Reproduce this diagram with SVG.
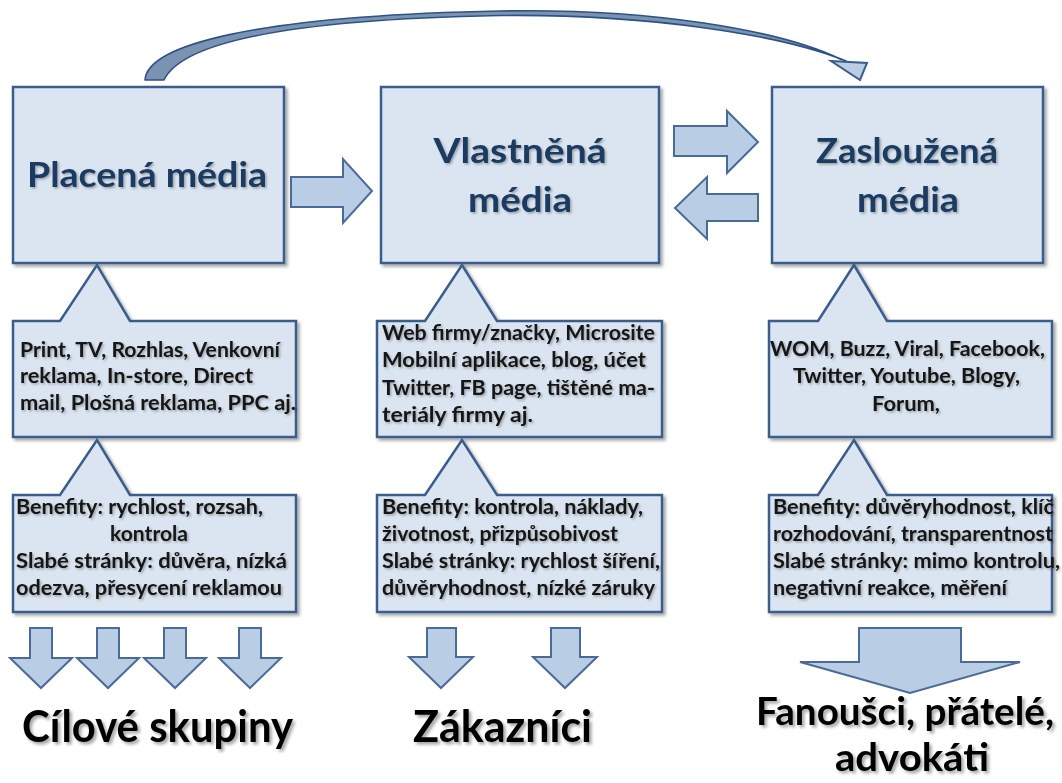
<svg xmlns="http://www.w3.org/2000/svg" width="1062" height="783" viewBox="0 0 1062 783">
  <defs>
    <filter id="shapeShadow" x="-10%" y="-10%" width="125%" height="125%">
      <feDropShadow dx="2.5" dy="2.5" stdDeviation="1.8" flood-color="#000" flood-opacity="0.35"/>
    </filter>
    <filter id="textShadow" x="-5%" y="-20%" width="115%" height="150%">
      <feDropShadow dx="1.5" dy="1.5" stdDeviation="1" flood-color="#000" flood-opacity="0.3"/>
    </filter>
    <filter id="bigTextShadow" x="-5%" y="-20%" width="115%" height="150%">
      <feDropShadow dx="2.5" dy="2.5" stdDeviation="1.6" flood-color="#000" flood-opacity="0.35"/>
    </filter>
  </defs>
  <style>
    .box { fill: #dbe5f1; stroke: #3a5d8b; stroke-width: 2.5; filter: url(#shapeShadow); }
    .arrow { fill: #b9cde5; stroke: #4a6b97; stroke-width: 2; stroke-linejoin: miter; }
    .title { font-family: Lato, "Open Sans", "Liberation Sans", sans-serif; font-weight: 700; font-size: 34px; fill: #1c3a60; filter: url(#textShadow); }
    .note { font-family: Lato, "Open Sans", "Liberation Sans", sans-serif; font-weight: 700; font-size: 20px; fill: #141414; filter: url(#textShadow); }
    .label { font-family: Lato, "Open Sans", "Liberation Sans", sans-serif; font-weight: 700; font-size: 44px; fill: #000; filter: url(#bigTextShadow); }
    .label2 { font-family: Lato, "Open Sans", "Liberation Sans", sans-serif; font-weight: 700; font-size: 39px; fill: #000; filter: url(#bigTextShadow); }
  </style>

  <rect width="1062" height="783" fill="#ffffff"/>

  <!-- connectors -->
  <g id="connectors">
    <!-- curved arrow over the top: paid to earned -->
    <path d="M145,80 C147,46 250,16 500,11 C650,8 780,30 840,59 L846,61 C782,35 650,14 500,15.5 C268,20 180,46 164,80 Z"
          fill="#7b93b3" stroke="#2e5283" stroke-width="1.6" stroke-linejoin="round"/>
    <polygon points="831,61 867,63 860,80" fill="#b9cde5" stroke="#3a5d8b" stroke-width="2" stroke-linejoin="miter"/>

    <!-- paid -> owned -->
    <polygon class="arrow" points="291,177 343,177 343,159 372,191 343,223 343,207 291,207"/>
    <!-- owned -> earned -->
    <polygon class="arrow" points="674,126 727,126 727,111 758,142 727,173 727,156 674,156"/>
    <!-- earned -> owned -->
    <polygon class="arrow" points="758,194 707,194 707,177 675,208 707,239 707,221 758,221"/>

    <!-- down arrows under paid media -->
    <polygon class="arrow" points="30,628 52,628 52,658 72,658 41,688 10,658 30,658"/>
    <polygon class="arrow" points="97,628 119,628 119,658 139,658 108,688 77,658 97,658"/>
    <polygon class="arrow" points="164,628 186,628 186,658 206,658 175,688 144,658 164,658"/>
    <polygon class="arrow" points="239,628 261,628 261,658 281,658 250,688 219,658 239,658"/>

    <!-- down arrows under owned media -->
    <polygon class="arrow" points="427,628 456,628 456,657 473,657 441,688 409,657 427,657"/>
    <polygon class="arrow" points="551,628 580,628 580,657 597,657 565,688 533,657 551,657"/>

    <!-- large down arrow under earned media -->
    <polygon class="arrow" points="859,628 961,628 961,662 1020,662 910,693 800,662 859,662"/>
  </g>

  <!-- main media boxes -->
  <g id="paid-media">
    <rect class="box" x="13" y="87" width="271" height="176"/>
    <text class="title" x="147" y="187" text-anchor="middle" textLength="240" lengthAdjust="spacingAndGlyphs">Placená média</text>
  </g>
  <g id="owned-media">
    <rect class="box" x="381" y="87" width="278" height="176"/>
    <text class="title" x="520" y="163" text-anchor="middle" textLength="173" lengthAdjust="spacingAndGlyphs">Vlastněná</text>
    <text class="title" x="520" y="212" text-anchor="middle" textLength="104" lengthAdjust="spacingAndGlyphs">média</text>
  </g>
  <g id="earned-media">
    <rect class="box" x="772" y="87" width="271" height="176"/>
    <text class="title" x="907" y="163" text-anchor="middle" textLength="182" lengthAdjust="spacingAndGlyphs">Zasloužená</text>
    <text class="title" x="908" y="212" text-anchor="middle" textLength="102" lengthAdjust="spacingAndGlyphs">média</text>
  </g>

  <!-- channel callouts -->
  <g id="paid-channels">
    <path class="box" d="M13,321 H60 L97,265 L130,321 H296 V437 H13 Z"/>
    <text class="note" x="20" y="357" textLength="260" lengthAdjust="spacingAndGlyphs">Print, TV, Rozhlas, Venkovní</text>
    <text class="note" x="20" y="383" textLength="233" lengthAdjust="spacingAndGlyphs">reklama, In-store, Direct</text>
    <text class="note" x="20" y="410" textLength="276" lengthAdjust="spacingAndGlyphs">mail, Plošná  reklama, PPC aj.</text>
  </g>
  <g id="owned-channels">
    <path class="box" d="M377,321 H425 L462,265 L497,321 H662 V437 H377 Z"/>
    <text class="note" x="382" y="340" textLength="273" lengthAdjust="spacingAndGlyphs">Web firmy/značky, Microsite</text>
    <text class="note" x="382" y="367" textLength="264" lengthAdjust="spacingAndGlyphs">Mobilní aplikace, blog, účet</text>
    <text class="note" x="382" y="395" textLength="273" lengthAdjust="spacingAndGlyphs">Twitter, FB page, tištěné ma-</text>
    <text class="note" x="382" y="422" textLength="151" lengthAdjust="spacingAndGlyphs">teriály firmy aj.</text>
  </g>
  <g id="earned-channels">
    <path class="box" d="M769,321 H818 L854,265 L887,321 H1052 V437 H769 Z"/>
    <text class="note" x="770" y="356" textLength="275" lengthAdjust="spacingAndGlyphs">WOM, Buzz, Viral, Facebook,</text>
    <text class="note" x="793" y="383" textLength="227" lengthAdjust="spacingAndGlyphs">Twitter, Youtube,  Blogy,</text>
    <text class="note" x="872" y="411" textLength="68" lengthAdjust="spacingAndGlyphs">Forum,</text>
  </g>

  <!-- strengths and weaknesses callouts -->
  <g id="paid-pros-cons">
    <path class="box" d="M13,495 H60 L97,440 L130,495 H296 V612 H13 Z"/>
    <text class="note" x="16" y="514" textLength="247" lengthAdjust="spacingAndGlyphs">Benefity: rychlost, rozsah,</text>
    <text class="note" x="110" y="541" textLength="78" lengthAdjust="spacingAndGlyphs">kontrola</text>
    <text class="note" x="16" y="568" textLength="271" lengthAdjust="spacingAndGlyphs">Slabé stránky: důvěra,  nízká</text>
    <text class="note" x="16" y="595" textLength="266" lengthAdjust="spacingAndGlyphs">odezva, přesycení reklamou</text>
  </g>
  <g id="owned-pros-cons">
    <path class="box" d="M377,495 H425 L462,440 L497,495 H662 V612 H377 Z"/>
    <text class="note" x="382" y="514" textLength="261" lengthAdjust="spacingAndGlyphs">Benefity: kontrola, náklady,</text>
    <text class="note" x="382" y="541" textLength="236" lengthAdjust="spacingAndGlyphs">životnost, přizpůsobivost</text>
    <text class="note" x="382" y="568" textLength="278" lengthAdjust="spacingAndGlyphs">Slabé stránky: rychlost šíření,</text>
    <text class="note" x="382" y="595" textLength="273" lengthAdjust="spacingAndGlyphs">důvěryhodnost, nízké záruky</text>
  </g>
  <g id="earned-pros-cons">
    <path class="box" d="M769,495 H818 L854,440 L887,495 H1052 V612 H769 Z"/>
    <text class="note" x="773" y="514" textLength="281" lengthAdjust="spacingAndGlyphs">Benefity: důvěryhodnost,  klíč</text>
    <text class="note" x="773" y="541" textLength="280" lengthAdjust="spacingAndGlyphs">rozhodování, transparentnost</text>
    <text class="note" x="773" y="568" textLength="287" lengthAdjust="spacingAndGlyphs">Slabé stránky: mimo kontrolu,</text>
    <text class="note" x="773" y="595" textLength="234" lengthAdjust="spacingAndGlyphs">negativní reakce, měření</text>
  </g>

  <!-- audiences -->
  <g id="target-groups">
    <text class="label" x="22" y="742" textLength="271" lengthAdjust="spacingAndGlyphs">Cílové skupiny</text>
  </g>
  <g id="customers">
    <text class="label" x="413" y="742" textLength="179" lengthAdjust="spacingAndGlyphs">Zákazníci</text>
  </g>
  <g id="fans">
    <text class="label2" x="756" y="725" textLength="298" lengthAdjust="spacingAndGlyphs">Fanoušci, přátelé,</text>
    <text class="label2" x="912" y="771" text-anchor="middle" textLength="154" lengthAdjust="spacingAndGlyphs">advokáti</text>
  </g>
</svg>
